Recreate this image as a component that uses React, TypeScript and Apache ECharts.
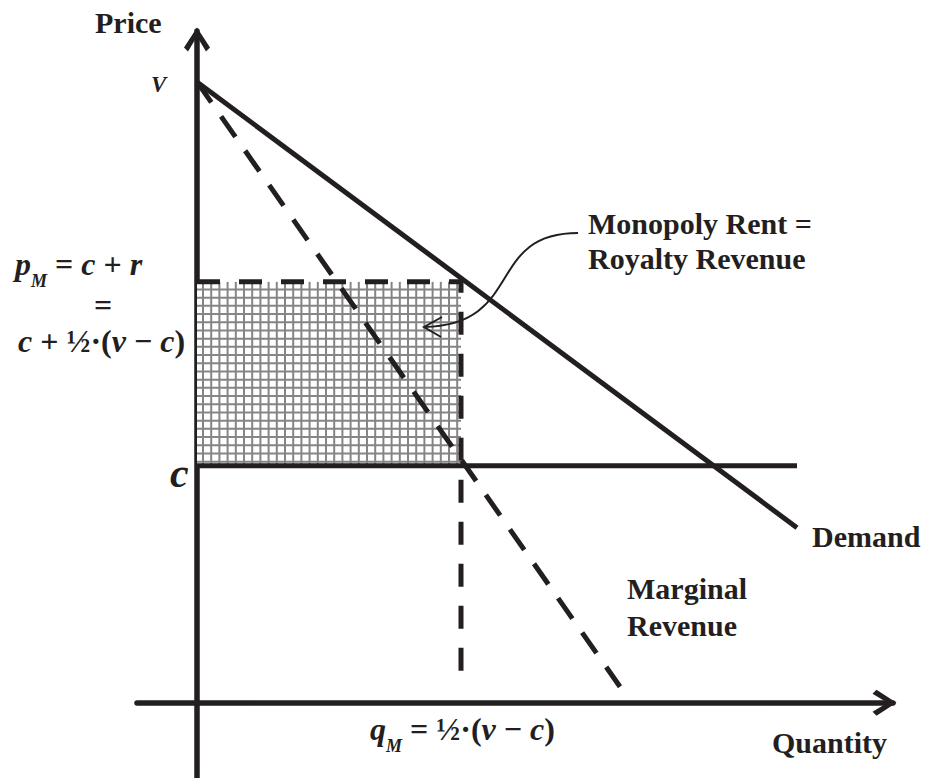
import React, { useEffect, useRef } from "react";
import * as echarts from "echarts";

// ---- model values (price on y, quantity on x) ----
const V = 10; // choke price v
const C = 3.82; // marginal cost c
const PM = 6.78; // monopoly price p_M
const QM = 5.28; // monopoly quantity q_M

const demandQ = [0, 12];
const demandP = [V, 2.82];
const mrQ = [0, 8.46];
const mrP = [V, 0.26];
const costQ = [0, 12];
const costP = [C, C];
const monopolyQ = [0, QM, QM];
const monopolyP = [PM, PM, 0.32];
const rentBox = [0, C, QM, PM]; // q0, p0, q1, p1

const xExtent = [-1.2, 13.92];
const yExtent = [-1.21, 10.82];

const INK = "#231f20";
const HATCH = "#858585";
const FONT = '"Liberation Serif", "Times New Roman", serif';
const CHEVRON = "path://M13,0 L26,20 L22,24 L13,9 L4,24 L0,20 Z";

const zip = (a: number[], b: number[]) => a.map((v, i) => [v, b[i]]);

function word(text: string, x: number, y: number, size = 30, italic = false, align = "left") {
  return {
    type: "text",
    x,
    y,
    z: 50,
    style: {
      text,
      fill: INK,
      fontFamily: FONT,
      fontSize: size,
      fontWeight: "bold",
      fontStyle: italic ? "italic" : "normal",
      align,
      textAlign: align,
      verticalAlign: "middle",
      textVerticalAlign: "middle",
    },
  };
}

const makeRich = (lh: number) => ({
  i: { fontFamily: FONT, fontSize: 32, fontWeight: "bold", fontStyle: "italic", lineHeight: lh, fill: INK },
  o: { fontFamily: FONT, fontSize: 32, fontWeight: "bold", lineHeight: lh, fill: INK },
  s: {
    fontFamily: FONT,
    fontSize: 18,
    fontWeight: "bold",
    fontStyle: "italic",
    lineHeight: 18,
    verticalAlign: "bottom",
    fill: INK,
  },
});

function math(text: string, x: number, y: number, lh = 52) {
  return {
    type: "text",
    x,
    y,
    z: 50,
    style: {
      text,
      rich: makeRich(lh),
      fill: INK,
      fontFamily: FONT,
      fontSize: 32,
      fontWeight: "bold",
      align: "left",
      textAlign: "left",
      verticalAlign: "middle",
      textVerticalAlign: "middle",
    },
  };
}

export default function App() {
  const ref = useRef<HTMLDivElement>(null);

  useEffect(() => {
    if (!ref.current) return;
    const chart = echarts.init(ref.current, undefined, { renderer: "svg" });

    const lineSeries = (data: number[][], type: any, z = 3) => ({
      type: "line",
      data,
      symbol: "none",
      showSymbol: false,
      silent: true,
      z,
      lineStyle: { color: INK, width: 5, type, cap: "butt" },
    });

    const axisCommon = {
      type: "value",
      axisTick: { show: false },
      axisLabel: { show: false },
      splitLine: { show: false },
      axisLine: {
        show: true,
        onZero: true,
        symbol: ["none", CHEVRON],
        symbolSize: [26, 25],
        symbolOffset: [0, -8.5],
        lineStyle: { color: INK, width: 5.5 },
      },
    };

    const option: any = {
      animation: false,
      backgroundColor: "#ffffff",
      grid: { left: 137, right: 37, top: 31, bottom: 0, containLabel: false },
      xAxis: { ...axisCommon, min: xExtent[0], max: xExtent[1] },
      yAxis: { ...axisCommon, min: yExtent[0], max: yExtent[1] },
      series: [
        {
          type: "custom",
          silent: true,
          z: 1,
          data: [rentBox],
          encode: { x: [0, 2], y: [1, 3] },
          renderItem: (params: any, api: any) => {
            const tl = api.coord([api.value(0), api.value(3)]);
            const br = api.coord([api.value(2), api.value(1)]);
            const step = 8.2;
            const children: any[] = [
              {
                type: "rect",
                shape: { x: tl[0], y: tl[1], width: br[0] - tl[0], height: br[1] - tl[1] },
                style: { fill: "#ffffff" },
              },
            ];
            for (let x = tl[0] + 6; x < br[0]; x += step) {
              children.push({
                type: "line",
                shape: { x1: x, y1: tl[1], x2: x, y2: br[1] },
                style: { stroke: HATCH, lineWidth: 2 },
              });
            }
            for (let y = br[1] - 4; y > tl[1]; y -= step) {
              children.push({
                type: "line",
                shape: { x1: tl[0], y1: y, x2: br[0], y2: y },
                style: { stroke: HATCH, lineWidth: 2 },
              });
            }
            return { type: "group", children };
          },
        },
        lineSeries(zip(costQ, costP), "solid", 3),
        lineSeries(zip(monopolyQ, monopolyP), [23, 19], 4),
        lineSeries(zip(mrQ, mrP), [25, 17], 4),
        lineSeries(zip(demandQ, demandP), "solid", 5),
      ],
      graphic: [
        word("Price", 95, 22),
        word("V", 151, 84, 23, true),
        math("{i|p}{s|M}{o| = }{i|c}{o| + }{i|r}", 15, 264, 52),
        word("=", 103, 305, 32, false, "center"),
        math("{i|c}{o| + ½·(}{i|v}{o| − }{i|c}{o|)}", 18, 341, 34),
        word("c", 170, 473, 42, true),
        word("Monopoly Rent =", 588, 223),
        word("Royalty Revenue", 588, 258),
        word("Demand", 812, 536),
        word("Marginal", 627, 588),
        word("Revenue", 627, 625),
        math("{i|q}{s|M}{o| = ½·(}{i|v}{o| − }{i|c}{o|)}", 370, 729, 52),
        word("Quantity", 772, 742),
        {
          type: "bezierCurve",
          z: 50,
          shape: { x1: 578, y1: 233, cpx1: 485, cpy1: 233, cpx2: 525, cpy2: 325, x2: 424, y2: 327 },
          style: { stroke: INK, lineWidth: 2, fill: "none" },
        },
        {
          type: "polyline",
          z: 50,
          shape: { points: [[442, 317], [424, 327], [441, 337]] },
          style: { stroke: INK, lineWidth: 2, fill: "none" },
        },
      ],
    };

    chart.setOption(option);
    return () => chart.dispose();
  }, []);

  return (
    <div
      ref={ref}
      style={{ position: "absolute", left: 0, top: 0, width: 930, height: 778, background: "#fff" }}
    />
  );
}
